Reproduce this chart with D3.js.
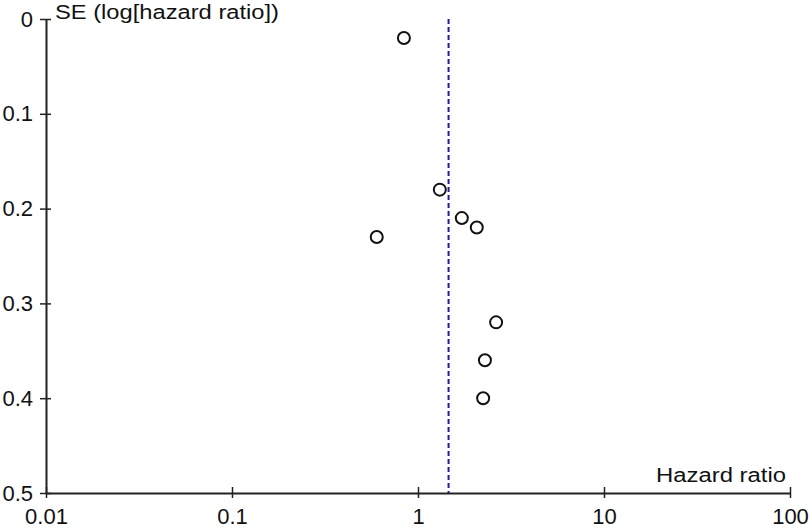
<!DOCTYPE html>
<html>
<head>
<meta charset="utf-8">
<script src="https://cdn.jsdelivr.net/npm/d3@7"></script>
<style>
  body { margin: 0; background: #fff; }
  svg text { font-family: "Liberation Sans", Arial, sans-serif; fill: #111; }
</style>
</head>
<body>
<svg id="funnel" width="810" height="532"></svg>
<script>
// Study estimates
const hazardRatios = [0.84, 1.31, 1.72, 2.07, 0.60, 2.63, 2.29, 2.24];
const seValues     = [0.02, 0.18, 0.21, 0.22, 0.23, 0.32, 0.36, 0.40];
const pooledHR = 1.46;

const xTicks = [0.01, 0.1, 1, 10, 100];
const xTickLabels = ["0.01", "0.1", "1", "10", "100"];
const yTicks = [0, 0.1, 0.2, 0.3, 0.4, 0.5];
const yTickLabels = ["0", "0.1", "0.2", "0.3", "0.4", "0.5"];

const margin = {top: 19, right: 20, bottom: 39, left: 46};
const width = 810 - margin.left - margin.right;
const height = 532 - margin.top - margin.bottom;

const svg = d3.select("#funnel")
    .append("g")
    .attr("transform", `translate(${margin.left},${margin.top})`);

const x = d3.scaleLog()
    .domain([0.01, 100])
    .range([0, width]);

const y = d3.scaleLinear()
    .domain([0, 0.5])
    .range([0, height]);

// Axes, ticks cross the line
const xAxis = d3.axisBottom(x)
    .tickValues(xTicks)
    .tickFormat((d, i) => xTickLabels[i])
    .tickSizeInner(5)
    .tickSizeOuter(0)
    .tickPadding(10);

const gx = svg.append("g")
    .attr("transform", `translate(0,${height})`)
    .call(xAxis);
gx.select(".domain").attr("stroke", "#222").attr("stroke-width", 2);
gx.selectAll(".tick line").attr("stroke", "#222").attr("stroke-width", 1.5).attr("y1", -6).attr("y2", 5);
gx.selectAll(".tick text").style("font-size", "22px").attr("fill", "#111");

const yAxis = d3.axisLeft(y)
    .tickValues(yTicks)
    .tickFormat((d, i) => yTickLabels[i])
    .tickSizeInner(6)
    .tickSizeOuter(0)
    .tickPadding(7);

const gy = svg.append("g").call(yAxis);
gy.select(".domain").attr("stroke", "#222").attr("stroke-width", 2);
gy.selectAll(".tick line").attr("stroke", "#222").attr("stroke-width", 1.5).attr("x1", -6).attr("x2", 5);
gy.selectAll(".tick text").style("font-size", "22px").attr("fill", "#111");

// Pooled estimate
svg.append("line")
    .attr("x1", x(pooledHR)).attr("x2", x(pooledHR))
    .attr("y1", y(0)).attr("y2", y(0.5))
    .attr("stroke", "#1c1ca6")
    .attr("stroke-width", 2)
    .attr("stroke-dasharray", "5 3");

// Studies
svg.selectAll(".study")
    .data(hazardRatios)
    .enter()
    .append("circle")
    .attr("class", "study")
    .attr("cx", d => x(d))
    .attr("cy", (d, i) => y(seValues[i]))
    .attr("r", 6)
    .attr("fill", "white")
    .attr("stroke", "#111")
    .attr("stroke-width", 2);

// Axis titles (wide face in the original, so stretch a bit)
svg.append("text")
    .attr("x", 9)
    .attr("y", 0)
    .attr("textLength", 224)
    .attr("lengthAdjust", "spacingAndGlyphs")
    .style("font-size", "20px")
    .text("SE (log[hazard ratio])");

svg.append("text")
    .attr("x", width - 134)
    .attr("y", height - 11)
    .attr("textLength", 130)
    .attr("lengthAdjust", "spacingAndGlyphs")
    .style("font-size", "20px")
    .text("Hazard ratio");
</script>
</body>
</html>
